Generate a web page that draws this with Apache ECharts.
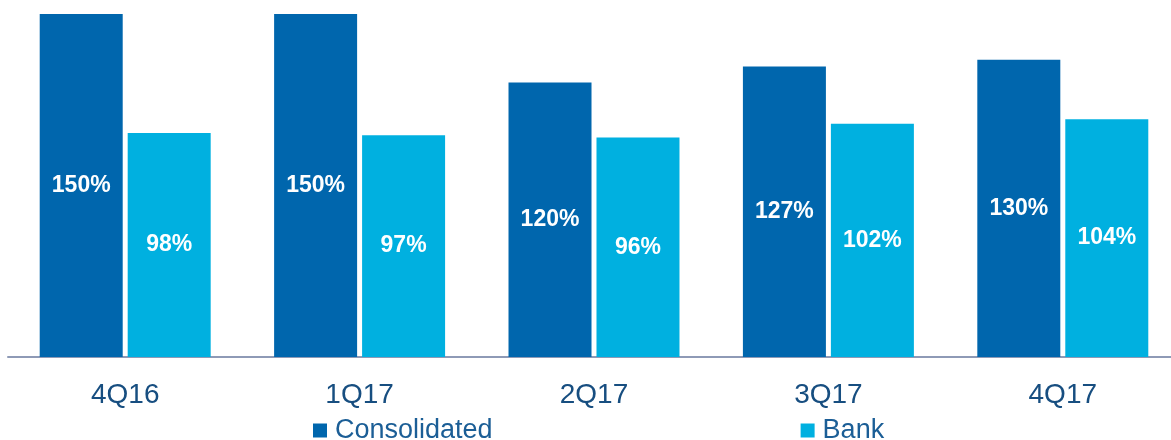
<!DOCTYPE html>
<html><head><meta charset="utf-8">
<script src="https://cdn.jsdelivr.net/npm/echarts@6/dist/echarts.min.js"></script>
<style>html,body{margin:0;padding:0;background:#fff}#c{width:1171px;height:440px}</style>
</head><body><div id="c"></div>
<script>
const categories = ['4Q16', '1Q17', '2Q17', '3Q17', '4Q17'];
const consolidated = [150, 150, 120, 127, 130];
const bank = [98, 97, 96, 102, 104];
const seriesNames = ['Consolidated', 'Bank'];

const chart = echarts.init(document.getElementById('c'));
const labelStyle = {
  show: true, position: 'inside', color: '#fff', fontWeight: 'bold',
  fontSize: 23, fontFamily: 'Liberation Sans, Arial, sans-serif',
  formatter: p => p.value + '%'
};
chart.setOption({
  animation: false,
  textStyle: { fontFamily: 'Liberation Sans, Arial, sans-serif' },
  grid: { left: 8, right: -9, top: 14, bottom: 83, outerBoundsMode: 'none', containLabel: false },
  legend: {
    left: 313, top: 417, padding: 0, itemWidth: 14, itemHeight: 14, itemGap: 308, icon: 'rect',
    textStyle: { fontSize: 27, color: '#1B5E96', padding: [0, 0, 0, 3], fontFamily: 'Liberation Sans, Arial, sans-serif' },
    data: seriesNames
  },
  xAxis: {
    type: 'category', data: categories,
    axisLine: { lineStyle: { color: '#8E9AB6', width: 2 } },
    axisTick: { show: false },
    axisLabel: { fontSize: 28, color: '#174E80', margin: 24 }
  },
  yAxis: { type: 'value', min: 0, max: 150, show: false, splitLine: { show: false } },
  series: [
    { name: seriesNames[0], type: 'bar', data: consolidated, barWidth: 83, barGap: '6%',
      itemStyle: { color: '#0066AD' }, label: labelStyle },
    { name: seriesNames[1], type: 'bar', data: bank, barWidth: 83,
      itemStyle: { color: '#00B0E0' }, label: labelStyle }
  ]
});
</script></body></html>
